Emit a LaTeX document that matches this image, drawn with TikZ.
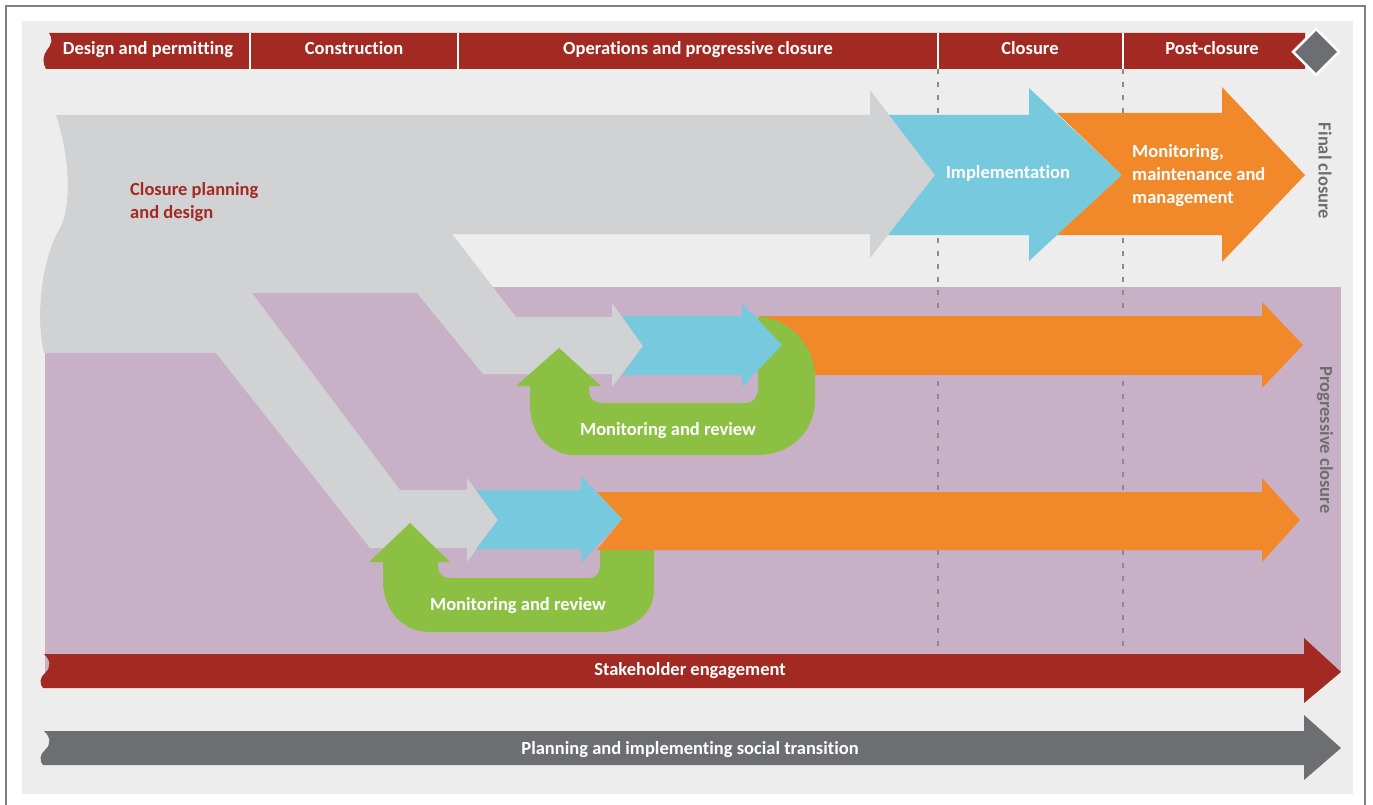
\documentclass[tikz,border=0pt]{standalone}
\usepackage{fontspec}
\setmainfont{Carlito}[Ligatures={NoCommon}]
\usetikzlibrary{positioning}

\definecolor{closred}{HTML}{A32A23}
\definecolor{closgrey}{HTML}{6D6E71}
\definecolor{pale}{HTML}{D1D2D4}
\definecolor{panel}{HTML}{EDEDED}
\definecolor{lilac}{HTML}{C8B0C6}
\definecolor{skyblue}{HTML}{77C9DD}
\definecolor{tangerine}{HTML}{F1882A}
\definecolor{leaf}{HTML}{8BC043}

\tikzstyle{lbl} = [font=\bfseries\fontsize{18.5}{23}\selectfont, text=white, inner sep=0pt]
\tikzstyle{phaselbl} = [lbl, anchor=base]
\tikzstyle{sidelbl} = [lbl, text=closgrey, rotate=-90]
\tikzstyle{divider} = [draw=white, line width=1.5pt]
\tikzstyle{timeline} = [draw=closgrey!80, line width=1.5pt, dash pattern=on 5pt off 8pt]
\tikzstyle{plan} = [fill=pale]
\tikzstyle{impl} = [fill=skyblue]
\tikzstyle{mon} = [fill=tangerine]
\tikzstyle{review} = [fill=leaf]

\begin{document}
\begin{tikzpicture}[x=1pt, y=-1pt]
    \useasboundingbox (0,0) rectangle (1373,805);
    % Frame and backgrounds
    \draw [draw=black!50, line width=1.5pt] (6,805) -- (6,6) -- (1365,6) -- (1365,805);
    \fill [panel] (22,21) rectangle (1353,794);
    \fill [lilac] (45,287) rectangle (1341,672);
    \draw [timeline] (938,69) -- (938,655);
    \draw [timeline] (1123,69) -- (1123,655);

    % Closure planning and design, with its two branches
    \fill [plan] (56,115) -- (870,115) -- (870,90) -- (935,175) -- (870,258) -- (870,234)
        -- (452,234) -- (516,317) -- (612,317) -- (612,303) -- (643,346) -- (612,387) -- (612,374)
        -- (483,374) -- (417,293) -- (252,293) -- (400,490) -- (467,490) -- (467,478) -- (498,520)
        -- (467,562) -- (467,548) -- (370,548) -- (216,353) -- (44,353)
        .. controls (36,320) and (40,262) .. (60,228)
        .. controls (70,210) and (72,165) .. (56,115) -- cycle;

    % Final closure
    \fill [impl] (889,115) -- (1029,115) -- (1029,88) -- (1122,175) -- (1029,261) -- (1029,235)
        -- (888,235) -- (935,175) -- cycle;
    \fill [mon] (1057,113) -- (1222,113) -- (1222,87) -- (1305,175) -- (1222,262) -- (1222,235)
        -- (1057,235) -- (1122,175) -- cycle;

    % Progressive closure, upper row
    \fill [mon] (760,316) -- (1262,316) -- (1262,302) -- (1303,345) -- (1262,388) -- (1262,375)
        -- (760,375) -- cycle;
    \fill [review] (559,348) -- (601,386) -- (589,386) -- (589,392)
        .. controls (589,399) and (595,403) .. (603,403) -- (746,403)
        .. controls (754,403) and (758,396) .. (758,388) -- (758,316) -- (755,316)
        .. controls (790,318) and (815,345) .. (815,378) -- (815,400)
        .. controls (815,432) and (790,455) .. (758,455) -- (575,455)
        .. controls (550,455) and (530,435) .. (530,405) -- (530,386) -- (516,386) -- cycle;
    \fill [impl] (622,316) -- (742,316) -- (742,303) -- (782,345) -- (742,387) -- (742,375)
        -- (622,375) -- (643,346) -- cycle;

    % Progressive closure, lower row
    \fill [review] (410,523) -- (450,562) -- (438,562) -- (438,566)
        .. controls (438,573) and (442,578) .. (450,578) -- (590,578)
        .. controls (597,578) and (600,572) .. (600,566) -- (600,545) -- (654,545) -- (654,590)
        .. controls (654,615) and (630,632) .. (600,632) -- (430,632)
        .. controls (402,632) and (383,610) .. (383,580) -- (383,562) -- (369,562) -- cycle;
    \fill [mon] (597,492) -- (1262,492) -- (1262,478) -- (1300,520) -- (1262,562) -- (1262,550)
        -- (597,550) -- (622,519) -- cycle;
    \fill [impl] (476,490) -- (581,490) -- (581,476) -- (622,519) -- (581,563) -- (581,549)
        -- (476,549) -- (498,520) -- cycle;

    % Bottom bars
    \fill [closred] (44,654) -- (1304,654) -- (1304,638) -- (1341,672) -- (1304,703) -- (1304,688)
        -- (43,688) .. controls (39,684) and (40,677) .. (45,673)
        .. controls (51,668) and (51,660) .. (44,654) -- cycle;
    \fill [closgrey] (44,731) -- (1304,731) -- (1304,715) -- (1341,748) -- (1304,780) -- (1304,765)
        -- (43,765) .. controls (39,761) and (40,754) .. (45,750)
        .. controls (51,745) and (51,737) .. (44,731) -- cycle;

    % Phase bar
    \fill [closred] (49,33) -- (1305,33) -- (1305,69) -- (46,69)
        .. controls (42,63) and (43,55) .. (47,50)
        .. controls (52,44) and (53,38) .. (49,33) -- cycle;
    \foreach \xd in {250,458,938,1123}
        \draw [divider] (\xd,33) -- (\xd,69);
    \draw [fill=closgrey, draw=white, line width=2.5pt] (1316,29) -- (1339,52) -- (1316,75) -- (1293,52) -- cycle;

    % Place nodes
    \node [phaselbl] (design) at (148,55) {Design and permitting};
    \node [phaselbl] (build) at (354,55) {Construction};
    \node [phaselbl] (operate) at (698,55) {Operations and progressive closure};
    \node [phaselbl] (closure) at (1030,55) {Closure};
    \node [phaselbl] (post) at (1212,55) {Post-closure};

    \node [lbl, text=closred, align=left, anchor=west] (planning) at (130,202) {Closure planning\\and design};
    \node [phaselbl] (implement) at (1008,179) {Implementation};
    \node [lbl, align=left, anchor=west] (monitor) at (1132,176) {Monitoring,\\maintenance and\\management};
    \node [phaselbl] (review1) at (668,435) {Monitoring and review};
    \node [phaselbl] (review2) at (518,610) {Monitoring and review};

    \node [sidelbl] (final) at (1325,171) {Final closure};
    \node [sidelbl] (progressive) at (1325,440) {Progressive closure};

    \node [phaselbl] (stake) at (690,675) {Stakeholder engagement};
    \node [phaselbl] (social) at (690,754) {Planning and implementing social transition};
\end{tikzpicture}
\end{document}
